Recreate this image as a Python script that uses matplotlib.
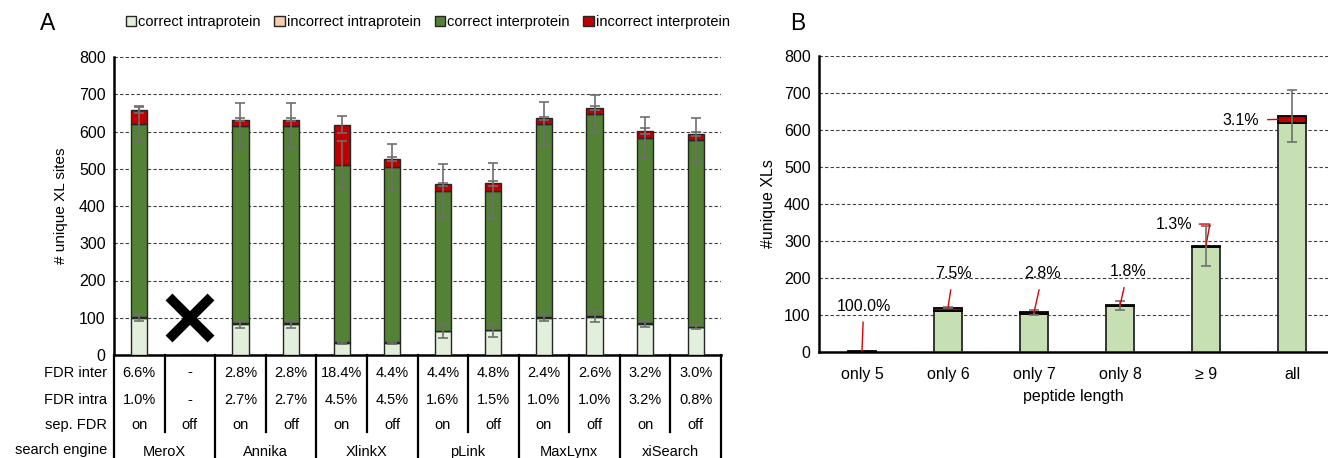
import matplotlib.pyplot as plt
import numpy as np

plt.rcParams['font.family'] = ['Liberation Sans', 'DejaVu Sans']
plt.rcParams['font.size'] = 10.5

# ---- panel A data ----
engines = ['MeroX', 'Annika', 'XlinkX', 'pLink', 'MaxLynx', 'xiSearch']
sep_fdr = ['on', 'off'] * 6
fdr_inter = ['6.6%', '-', '2.8%', '2.8%', '18.4%', '4.4%', '4.4%', '4.8%', '2.4%', '2.6%', '3.2%', '3.0%']
fdr_intra = ['1.0%', '-', '2.7%', '2.7%', '4.5%', '4.5%', '1.6%', '1.5%', '1.0%', '1.0%', '3.2%', '0.8%']

intra_correct = [100, 0, 84, 84, 33, 33, 64, 66, 100, 103, 83, 75]
intra_incorrect = [1, 0, 2, 2, 1.5, 1.5, 1, 1, 1, 1, 3, 1]
inter_correct = [520, 0, 530, 530, 476, 469, 375, 374, 520, 544, 497, 500]
inter_incorrect = [38, 0, 16, 16, 108, 22, 18, 20, 14, 16, 18, 17]

err_intra = [10, 0, 11, 11, 3, 3, 18, 18, 10, 14, 7, 6]
err_inter = [48, 0, 60, 60, 63, 64, 72, 75, 57, 50, 57, 60]
err_total = [8, 0, 4, 4, 23, 6, 5, 7, 5, 5, 8, 5]

# ---- panel B data ----
lengths = ['only 5', 'only 6', 'only 7', 'only 8', '\u2265 9', 'all']
b_correct = [0, 110, 103, 123, 282, 617]
b_incorrect = [1.5, 9, 3, 2, 4, 19]
b_err = [0, 2, 6, 13, 54, 70]
b_labels = ['100.0%', '7.5%', '2.8%', '1.8%', '1.3%', '3.1%']

c_intra = '#E2EFDA'
c_intra_bad = '#F8CBAD'
c_inter = '#548235'
c_inter_bad = '#C00000'
c_b = '#C6E0B4'
edge = '#262626'
errc = '#6e6e6e'

fig = plt.figure(figsize=(13.28, 4.58), dpi=100)

# ================= panel A =================
axA = fig.add_axes([114 / 1328, 1 - 355 / 458, 607 / 1328, 298 / 458])
x = np.arange(len(sep_fdr))
w = 0.32
ic = np.array(intra_correct, float)
ii = np.array(intra_incorrect, float)
ec = np.array(inter_correct, float)
ei = np.array(inter_incorrect, float)

b1 = axA.bar(x, ic, w, color=c_intra, edgecolor=edge, lw=1, label='correct intraprotein', zorder=3)
b2 = axA.bar(x, ii, w, bottom=ic, color=c_intra_bad, edgecolor=edge, lw=1, label='incorrect intraprotein', zorder=3)
b3 = axA.bar(x, ec, w, bottom=ic + ii, color=c_inter, edgecolor=edge, lw=1, label='correct interprotein', zorder=3)
b4 = axA.bar(x, ei, w, bottom=ic + ii + ec, color=c_inter_bad, edgecolor=edge, lw=1, label='incorrect interprotein', zorder=3)

has = ic > 0
kw = dict(fmt='none', ecolor=errc, elinewidth=1.2, capsize=3.5, capthick=1.2, zorder=4)
axA.errorbar(x[has], ic[has], yerr=np.array(err_intra)[has], **kw)
axA.errorbar(x[has], (ic + ii + ec)[has], yerr=np.array(err_inter)[has], **kw)
axA.errorbar(x[has], (ic + ii + ec + ei)[has], yerr=np.array(err_total)[has], **kw)

# no result for MeroX with sep. FDR off
axA.plot([1], [100], marker='x', ms=30, mew=7, color='black', zorder=5)

axA.set_xlim(-0.5, len(x) - 0.5)
axA.set_ylim(0, 800)
axA.set_yticks(range(0, 801, 100))
axA.set_xticks([])
axA.yaxis.grid(True, linestyle=(0, (3, 2)), color='#404040', lw=0.8, zorder=0)
axA.spines['top'].set_visible(False)
axA.spines['right'].set_visible(False)
axA.spines['left'].set_linewidth(1.8)
axA.spines['bottom'].set_linewidth(1.8)
axA.tick_params(axis='y', length=0, pad=6, labelsize=11.5)
axA.set_ylabel('# unique XL sites', labelpad=8, fontsize=11)

# table under panel A
axT = fig.add_axes([114 / 1328, 0, 607 / 1328, 1 - 355 / 458])
axT.set_xlim(-0.5, len(x) - 0.5)
axT.set_ylim(0, 1)
axT.axis('off')
row_y = [0.83, 0.565, 0.32, 0.075]
row_names = ['FDR inter', 'FDR intra', 'sep. FDR', 'search engine']
for yy, name in zip(row_y, row_names):
    axT.text(-0.64, yy, name, ha='right', va='center')
for i in range(len(x)):
    axT.text(i, row_y[0], fdr_inter[i], ha='center', va='center')
    axT.text(i, row_y[1], fdr_intra[i], ha='center', va='center')
    axT.text(i, row_y[2], sep_fdr[i], ha='center', va='center')
for k, name in enumerate(engines):
    axT.text(2 * k + 0.5, row_y[3] - 0.02, name, ha='center', va='center')
for k in range(len(engines) + 1):
    axT.plot([2 * k - 0.5] * 2, [0, 1], color='black', lw=1.6, clip_on=False)
for k in range(len(engines)):
    axT.plot([2 * k + 0.5] * 2, [0.25, 1], color='black', lw=1.6, clip_on=False)

fig.legend(handles=[b1, b2, b3, b4], loc='center', bbox_to_anchor=(0.322, 1 - 22 / 458), ncol=4,
           frameon=False, handlelength=0.7, handleheight=0.7, handletextpad=0.15, columnspacing=0.95,
           fontsize=10.5)
fig.text(40 / 1328, 1 - 23 / 458, 'A', fontsize=16.5, va='center')
fig.text(790 / 1328, 1 - 23 / 458, 'B', fontsize=16.5, va='center')

# ================= panel B =================
axB = fig.add_axes([819 / 1328, 1 - 351.7 / 458, (1328 - 819) / 1328, 296 / 458])
xb = np.arange(len(lengths))
wb = 0.32
bc = np.array(b_correct, float)
bi = np.array(b_incorrect, float)
axB.bar(xb, bc, wb, color=c_b, edgecolor=edge, lw=1.3, zorder=3)
axB.bar(xb, bi, wb, bottom=bc, color=c_inter_bad, edgecolor='black', lw=1.3, zorder=3)
hb = np.array(b_err) > 0
axB.errorbar(xb[hb], (bc + bi)[hb], yerr=np.array(b_err)[hb], **kw)

axB.set_xlim(-0.5, -0.5 + (1328 - 819) / 86.0)
axB.set_ylim(0, 800)
axB.set_yticks(range(0, 801, 100))
axB.set_xticks(xb)
axB.set_xticklabels(lengths)
axB.yaxis.grid(True, linestyle=(0, (3, 2)), color='#404040', lw=0.8, zorder=0)
axB.spines['top'].set_visible(False)
axB.spines['right'].set_visible(False)
axB.spines['left'].set_linewidth(1.8)
axB.spines['bottom'].set_linewidth(1.8)
axB.tick_params(axis='y', length=0, pad=6, labelsize=11.5)
axB.tick_params(axis='x', length=0, pad=11, labelsize=11.5)
axB.set_ylabel('#unique XLs', labelpad=6, fontsize=11.5)
axB.set_xlabel('peptide length', labelpad=5, fontsize=11.5)

# FDR labels with red leader lines
tops = bc + bi
lab_pos = [(0.02, 123), (1.06, 210), (2.1, 210), (3.09, 216), (3.84, 345), (4.62, 625)]
red = '#E00000'
for i, lab in enumerate(b_labels):
    tx, ty = lab_pos[i]
    if i == 4:
        axB.annotate(lab, xy=(i, tops[i]), xytext=(tx, ty), ha='right', va='center', fontsize=11.5,
                     arrowprops=dict(arrowstyle='-', color=red, lw=1,
                                     connectionstyle='angle,angleA=0,angleB=80,rad=0',
                                     shrinkA=3, shrinkB=0), zorder=6)
    elif i == 5:
        axB.annotate(lab, xy=(i - wb / 2, tops[i] - 8), xytext=(tx, ty), ha='right', va='center',
                     fontsize=11.5,
                     arrowprops=dict(arrowstyle='-', color=red, lw=1, shrinkA=4, shrinkB=0), zorder=6)
    else:
        axB.annotate(lab, xy=(i, tops[i]), xytext=(tx, ty), ha='center', va='center', fontsize=11.5,
                     arrowprops=dict(arrowstyle='-', color=red, lw=1, shrinkA=4, shrinkB=0), zorder=6)

fig.savefig('out.png', dpi=100)
